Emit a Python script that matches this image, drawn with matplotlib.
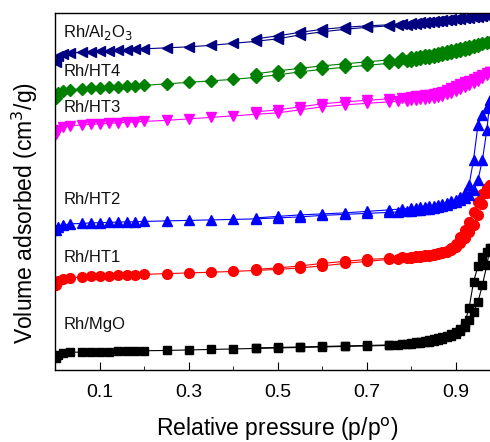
import matplotlib.pyplot as plt

plt.rcParams['font.family'] = ['Liberation Sans', 'DejaVu Sans']

## Relative pressure points (adsorption up, desorption down)
p_ads = [0.002, 0.006, 0.017, 0.033, 0.06, 0.08, 0.10, 0.12, 0.14, 0.16, 0.18, 0.20,
         0.25, 0.30, 0.35, 0.40, 0.45, 0.50, 0.55, 0.60, 0.65, 0.70, 0.75, 0.77,
         0.79, 0.80, 0.81, 0.82, 0.83, 0.84, 0.85, 0.86, 0.87, 0.88, 0.89, 0.90,
         0.91, 0.92, 0.93, 0.94, 0.95, 0.96, 0.97, 0.977]
p_des = [0.977, 0.97, 0.96, 0.95, 0.94, 0.93, 0.92, 0.91, 0.90, 0.89, 0.88, 0.87,
         0.86, 0.85, 0.84, 0.83, 0.82, 0.81, 0.80, 0.78, 0.75, 0.70, 0.65, 0.60,
         0.55, 0.50, 0.45]

## Volume adsorbed (stacked, arbitrary offset units)
mgo_ads = [12, 15, 17, 17.5, 18, 18, 18.2, 18.4, 18.6, 18.8, 19, 19.2,
           19.5, 20, 20.5, 21, 21.5, 22, 22.5, 23, 23.5, 24, 24.5, 25,
           25.5, 26, 26.5, 27, 27.5, 28, 29, 30, 31, 32.5, 34, 36,
           39, 43, 50, 58, 68, 85, 105, 122]
mgo_des = [122, 118, 113, 104, 88, 62, 47, 41, 38, 35.5, 34, 32.5,
           31.5, 30.5, 29.5, 28.5, 28, 27.5, 27, 26, 25, 24.5, 24, 23.5,
           23, 22.5, 22]

ht1_ads = [85, 89, 91, 92, 93, 93.5, 94, 94.3, 94.6, 95, 95.3, 95.6,
           96.3, 97, 97.7, 98.5, 99.5, 100.5, 102, 104, 106.5, 108.5, 110.5, 111,
           111.5, 112, 112.5, 113, 113.5, 114, 114.5, 115.5, 116.5, 118, 120, 123,
           127, 132, 138, 145, 155, 166, 177, 185]
ht1_des = [185, 182, 176, 168, 158, 148, 140, 133, 126, 122, 119, 117.5,
           116.5, 116, 115, 114.5, 114, 113.5, 113, 112.5, 111.5, 110.5, 108.5, 106.5,
           104, 102, 100.5]

ht2_ads = [140, 143, 145, 146, 146.5, 147, 147.2, 147.5, 147.8, 148, 148.2, 148.5,
           149, 149.5, 150, 150.5, 151, 152, 153, 154.5, 155.5, 156.5, 157.5, 158,
           158.5, 159, 159.5, 160, 160.5, 161, 162, 163, 164, 165, 166.5, 168,
           170, 172, 175, 180, 190, 210, 240, 270]
ht2_des = [270, 262, 255, 245, 210, 185, 177, 173, 170, 168.5, 167, 166,
           165, 164, 163.5, 163, 162.5, 162, 161.5, 161, 160, 158.5, 157, 156,
           155, 153.5, 152]

ht3_ads = [236, 240, 243, 244, 245, 245.5, 246, 246.5, 247, 247.5, 248, 248.5,
           249.5, 251, 252.5, 254, 255.5, 257, 260, 263, 265, 266.5, 268, 268.5,
           269, 269.5, 270, 270.5, 271, 271.5, 272, 273, 274, 275.5, 277, 279,
           281, 283, 285, 287, 289, 292, 295, 298]
ht3_des = [298, 297, 295, 293, 291, 289, 287.5, 286, 284, 282, 280, 278,
           277, 276, 275, 274.5, 274, 273.5, 273, 272, 271, 269.5, 268, 266,
           263, 260, 258]

ht4_ads = [272, 277, 279, 280, 281, 281.5, 282, 282.5, 283, 283.5, 284, 284.5,
           286, 287.5, 289, 290.5, 292.5, 295, 298, 300.5, 302.5, 304.5, 306.5, 307.5,
           308.5, 309, 310, 310.5, 311.5, 312, 313, 314, 315, 316, 317, 318,
           319, 320, 321, 322.5, 324, 325.5, 327, 328]
ht4_des = [328, 327.5, 326.5, 325.5, 324.5, 323.5, 322.5, 321.5, 320.5, 319.5, 318.5, 317.5,
           316.5, 316, 315, 314.5, 313.5, 313, 312.5, 311.5, 310, 308, 306, 304,
           301.5, 299, 296]

al2o3_ads = [308, 314, 316, 317, 317.5, 318, 318.5, 319, 319.5, 320, 320.5, 321,
             322, 323, 324.5, 326.5, 328.5, 331, 335, 338, 340.5, 342.5, 344, 344.5,
             345, 345.5, 346, 346.5, 347, 347.5, 348, 348.5, 349, 349.5, 350, 350.5,
             351, 351.5, 352, 352.5, 353, 353.5, 354, 354.5]
al2o3_des = [354.5, 354.5, 354, 353.5, 353, 352.5, 352, 351.5, 351, 350.5, 350, 349.5,
             349, 348.5, 348, 347.5, 347.5, 347, 346.5, 346, 345, 344, 342.5, 340.5,
             337.5, 334, 331]

samples = [
    ('Rh/MgO', mgo_ads, mgo_des, 'black', 's', 6, 45),
    ('Rh/HT1', ht1_ads, ht1_des, '#ff0000', 'o', 7, 112),
    ('Rh/HT2', ht2_ads, ht2_des, '#0000ff', '^', 7, 170),
    ('Rh/HT3', ht3_ads, ht3_des, '#ff00ff', 'v', 7, 262),
    ('Rh/HT4', ht4_ads, ht4_des, '#008000', 'D', 6, 298),
    ('Rh/Al$_2$O$_3$', al2o3_ads, al2o3_des, '#000080', '<', 7, 337),
]

fig = plt.figure(figsize=(4.9, 4.42), dpi=100)
ax = fig.add_axes([0.113, 0.163, 0.887, 0.808])

for name, ads, des, col, mk, ms, ylab in samples:
    ax.plot(p_ads, ads, color=col, marker=mk, ms=ms, lw=0.8, mec=col, mfc=col)
    ax.plot(p_des, des, color=col, marker=mk, ms=ms, lw=0.8, mec=col, mfc=col)
    ax.text(0.018, ylab, name, fontsize=12, color='#111111', va='center')

ax.set_xlim(0, 0.977)
ax.set_ylim(0, 357)
ax.set_xticks([0.1, 0.3, 0.5, 0.7, 0.9])
ax.set_xticks([0.2, 0.4, 0.6, 0.8], minor=True)
ax.set_yticks([])
ax.tick_params(axis='x', which='major', direction='in', length=6, labelsize=14, pad=10)
ax.tick_params(axis='x', which='minor', direction='in', length=3)
ax.spines['right'].set_visible(False)
for s in ['left', 'top', 'bottom']:
    ax.spines[s].set_linewidth(1.0)

fig.text(0.566, 0.028, 'Relative pressure (p/p$^{\\mathrm{o}}$)', fontsize=16.5,
         ha='center', va='center')
fig.text(0.051, 0.518, 'Volume adsorbed (cm$^3$/g)', fontsize=16.5,
         rotation=90, ha='center', va='center')

plt.savefig('out.png', dpi=100)
